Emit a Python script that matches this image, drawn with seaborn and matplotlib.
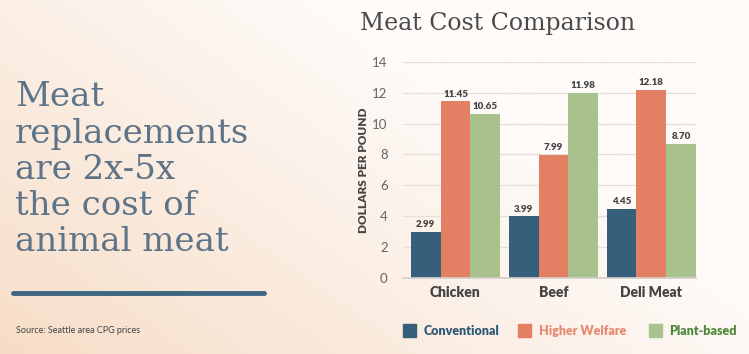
import matplotlib.pyplot as plt
import numpy as np
import pandas as pd
import seaborn as sns

categories = ["Chicken", "Beef", "Deli Meat"]
series = ["Conventional", "Higher Welfare", "Plant-based"]
conventional = [2.99, 3.99, 4.45]
higher_welfare = [11.45, 7.99, 12.18]
plant_based = [10.65, 11.98, 8.70]
y_ticks = [0, 2, 4, 6, 8, 10, 12, 14]

colors = {"Conventional": "#365f7b", "Higher Welfare": "#e37f62", "Plant-based": "#a9c18c"}
text_colors = {"Conventional": "#2f5a78", "Higher Welfare": "#e58a70", "Plant-based": "#4f8a3c"}

df = pd.DataFrame({
    "category": categories * 3,
    "series": [s for s in series for _ in categories],
    "value": conventional + higher_welfare + plant_based,
})

sns.set_theme(style="white")
plt.rcParams["font.family"] = ["Lato", "DejaVu Sans"]

fig = plt.figure(figsize=(7.49, 3.54), dpi=100)

# 背景のグラデーション（左下がピーチ、右上が白っぽい）
bg = fig.add_axes([0, 0, 1, 1])
xx = np.linspace(0, 1, 300)
yy = np.linspace(1, 0, 150)
X, Y = np.meshgrid(xx, yy)
t = np.clip(0.9 * X + 0.6 * Y, 0, 1)
c0 = np.array([247, 221, 199]) / 255
c1 = np.array([254, 251, 249]) / 255
img = c0[None, None, :] * (1 - t[..., None]) + c1[None, None, :] * t[..., None]
bg.imshow(img, aspect="auto", extent=[0, 1, 0, 1], origin="upper")
bg.set_xlim(0, 1)
bg.set_ylim(0, 1)
bg.axis("off")

ax = fig.add_axes([0.538, 0.215, 0.391, 0.61])
ax.set_facecolor("none")
sns.barplot(
    data=df, x="category", y="value", hue="series",
    order=categories, hue_order=series, palette=colors,
    width=0.91, saturation=1, legend=False, linewidth=0, ax=ax,
)
for container in ax.containers:
    ax.bar_label(container, fmt="%.2f", padding=2, fontsize=7,
                 fontweight="heavy", color="#444444")

ax.set_xlim(-0.536, 2.454)
ax.set_ylim(0, 14)
ax.set_yticks(y_ticks)
ax.yaxis.grid(True, color="#e6dfd9", linewidth=0.9)
ax.set_axisbelow(True)
for s in ["top", "right", "left"]:
    ax.spines[s].set_visible(False)
ax.spines["bottom"].set_color("#d5cec8")
ax.tick_params(axis="y", length=0, labelsize=9.5, labelcolor="#666666", pad=11)
ax.tick_params(axis="x", length=0, labelsize=10, labelcolor="#444444", pad=6)
for lbl in ax.get_xticklabels():
    lbl.set_fontweight("heavy")
ax.set_xlabel("")
ax.set_ylabel("DOLLARS PER POUND", fontsize=8.5, fontweight="heavy",
              color="#444444", labelpad=2)

fig.text(0.48, 0.935, "Meat Cost Comparison", family="DejaVu Serif",
         fontsize=17, color="#4a4a4a", ha="left", va="center")

fig.text(0.02, 0.52, "Meat\nreplacements\nare 2x-5x\nthe cost of\nanimal meat",
         family="DejaVu Serif", fontsize=24.5, color="#5d7387",
         ha="left", va="center", linespacing=1.17)

fig.add_artist(plt.Line2D([0.017, 0.352], [0.172, 0.172], color="#3e6682",
                          linewidth=3.5, transform=fig.transFigure))

fig.text(0.022, 0.065, "Source: Seattle area CPG prices", fontsize=6.5,
         color="#444444", ha="left", va="center")

# 凡例
lx = [0.538, 0.691, 0.866]
for x0, s in zip(lx, series):
    fig.patches.append(plt.Rectangle((x0, 0.048), 0.018, 0.036, color=colors[s],
                                     transform=fig.transFigure))
    fig.text(x0 + 0.028, 0.066, s, fontsize=9, fontweight="heavy",
             color=text_colors[s], ha="left", va="center")

fig.savefig("out.png", dpi=100)
